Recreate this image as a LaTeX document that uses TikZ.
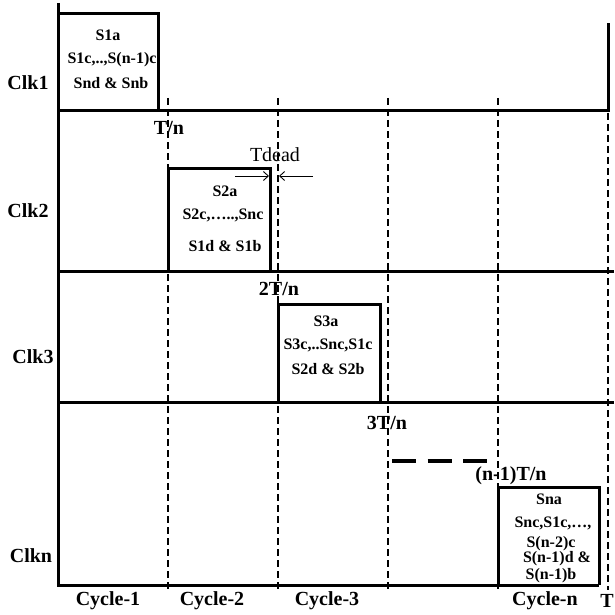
\documentclass[tikz,border=0pt]{standalone}
\usepackage{fontspec}
\setmainfont{Liberation Serif}
\usetikzlibrary{arrows.meta}
\begin{document}
\begin{tikzpicture}[x=1pt,y=-1pt,
  sig/.style={line width=3pt, line join=miter},
  gridline/.style={line width=1.1pt, dash pattern=on 7pt off 4pt},
  boxtxt/.style={font=\fontsize{16}{18}\selectfont\bfseries, inner sep=0pt},
  lbl/.style={font=\fontsize{20}{24}\selectfont\bfseries, inner sep=0pt},
  arr/.style={line width=0.9pt, -{Straight Barb[length=5pt,width=9pt]}}]
\useasboundingbox (0,0) rectangle (614,615);
\fill[white] (0,0) rectangle (614,615);
% dashed grid lines
\foreach \x in {168,278,388,498} \draw[gridline] (\x,98) -- (\x,590);
\draw[gridline] (608,113) -- (608,590);
% axis and signals
\draw[sig] (58,3) -- (58,585) -- (599,585);
\draw[sig] (58,14) -- (158,14) -- (158,111);
\draw[sig] (58,111) -- (608,111) -- (608,23);
\draw[sig] (58,271) -- (614,271);
\draw[sig] (168,271) -- (168,168) -- (270,168) -- (270,271);
\draw[sig] (58,402) -- (614,402);
\draw[sig] (278,402) -- (278,304) -- (380,304) -- (380,402);
\draw[sig] (498,585) -- (498,487) -- (599,487) -- (599,585);
% thick dashes
\draw[line width=4pt, dash pattern=on 24pt off 11.5pt] (392,461) -- (487,461);
% Tdead arrows
\coordinate (ta1) at (235,176);
\coordinate (tb1) at (269,176);
\coordinate (ta2) at (313,176);
\coordinate (tb2) at (279,176);
\draw[arr] (ta1) -- (tb1);
\draw[arr] (ta2) -- (tb2);
\node[font=\fontsize{20}{24}\selectfont, inner sep=0pt] (tdead) at (275,155) {Tdead};
% clock labels
\node[lbl] (clk1) at (28,83) {Clk1};
\node[lbl] (clk2) at (28,211) {Clk2};
\node[lbl] (clk3) at (33,357) {Clk3};
\node[lbl] (clkn) at (31,556) {Clkn};
% time labels
\node[lbl] (t1) at (169,128) {T/n};
\node[lbl] (t2) at (279,289) {2T/n};
\node[lbl] (t3) at (387,423) {3T/n};
\node[lbl] (tn) at (511,476) {(n-1)T/n};
% cycle labels
\node[lbl] (c1) at (108,601) {Cycle-1};
\node[lbl] (c2) at (212,601) {Cycle-2};
\node[lbl] (c3) at (327,601) {Cycle-3};
\node[lbl] (cn) at (545,601) {Cycle-n};
\node[lbl, anchor=east] (cT) at (614,601) {T};
% box texts
\node[boxtxt] (b1a) at (108,35) {S1a};
\node[boxtxt] (b1b) at (112,60) {S1c,..,S(n-1)c};
\node[boxtxt] (b1c) at (111,83) {Snd \& Snb};
\node[boxtxt] (b2a) at (225,191) {S2a};
\node[boxtxt] (b2b) at (223,215) {S2c,…..,Snc};
\node[boxtxt] (b2c) at (225,246) {S1d \& S1b};
\node[boxtxt] (b3a) at (326,321) {S3a};
\node[boxtxt] (b3b) at (328,345) {S3c,..Snc,S1c};
\node[boxtxt] (b3c) at (328,369) {S2d \& S2b};
\node[boxtxt] (bna) at (549,499) {Sna};
\node[boxtxt] (bnb) at (553,523) {Snc,S1c,…,};
\node[boxtxt] (bnc) at (551,544) {S(n-2)c};
\node[boxtxt] (bnd) at (557,559) {S(n-1)d \&};
\node[boxtxt] (bne) at (551,576) {S(n-1)b};
\end{tikzpicture}
\end{document}
